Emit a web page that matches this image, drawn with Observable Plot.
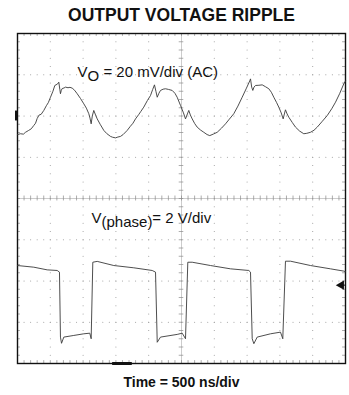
<!DOCTYPE html>
<html>
<head>
<meta charset="utf-8">
<script src="https://cdn.jsdelivr.net/npm/d3@7"></script>
<script src="https://cdn.jsdelivr.net/npm/@observablehq/plot@0.6"></script>
<style>
  body { margin: 0; background: #fff; font-family: "Liberation Sans", Arial, sans-serif; }
  #wrap { width: 349px; }
  #title { height: 28px; line-height: 30px; font-weight: bold; font-size: 17.5px; text-align: center; padding-left: 14px; color: #111; }
  #caption { height: 22px; line-height: 18px; font-weight: bold; font-size: 14px; text-align: center; padding-left: 14px; color: #111; }
  svg { display: block; }
</style>
</head>
<body>
<div id="wrap">
  <div id="title">OUTPUT VOLTAGE RIPPLE</div>
  <div id="chart"></div>
  <div id="caption">Time = 500 ns/div</div>
</div>
<script>
// ---- scope settings ----
const timeDomain = [0, 5000];          // ns, 500 ns/div, 10 divisions
const divDomain = [-4, 4];             // vertical divisions
const rippleOffsetDiv = 2;             // channel 1 reference (div)
const rippleMvPerDiv = 20;             // 20 mV/div (AC)
const phaseOffsetDiv = -3.3;           // channel 2 reference (div)
const phaseVPerDiv = 2;                // 2 V/div

// ---- output ripple, [time ns, mV] ----
const rippleTime = [0,46,90,122,170,210,248,275,300,330,360,401,440,470,503,540,569,610,630,645,655,668,681,710,732,770,800,834,870,910,960,1011,1050,1087,1105,1123,1140,1163,1190,1215,1260,1316,1360,1418,1450,1494,1530,1570,1610,1672,1720,1760,1799,1850,1880,1925,1980,2027,2060,2088,2110,2130,2155,2180,2220,2256,2300,2358,2400,2434,2485,2530,2561,2590,2611,2635,2663,2700,2739,2790,2840,2890,2931,2990,3044,3110,3171,3230,3297,3360,3425,3490,3540,3552,3570,3587,3605,3628,3680,3730,3780,3831,3870,3907,3950,3983,4020,4050,4068,4085,4110,4136,4190,4238,4300,4364,4410,4466,4520,4569,4640,4721,4790,4848,4910,4974,5000];
const rippleMv = [-9,-8.6,-8.8,-7.9,-7,-6.2,-4.6,-3.5,-1.2,0.5,0.8,2.7,5,6.5,9.1,12,14.8,15.5,16.4,13,10.8,12.5,13.3,13.6,14.0,13.7,13.9,13.5,12.5,10.8,8.5,5.9,3.8,1.1,-1,-3.8,0,2.7,0.5,-1.4,-4,-7.0,-8.5,-9.9,-10.3,-10.6,-10.2,-9.9,-9.0,-7.0,-5,-3.5,-1.4,0.8,2.2,4.3,7.5,9.9,12.8,15.1,12,9.1,11,12.4,13,13.2,12.9,12.4,11,9.1,5.1,1.5,-1.4,1,2.7,0.5,-1.4,-3.6,-5.4,-6.8,-7.9,-9,-9.5,-8.7,-7.9,-5.9,-3.8,-1.5,1.1,4.8,9.1,13.5,17,18.0,14,12.4,14,14.8,14.9,15.1,14.2,13.2,11.5,9.1,6.5,4.3,1.5,-1.4,1,3.0,1,-0.6,-3.2,-5.4,-7.3,-8.6,-8.4,-7.9,-6.9,-5.4,-2.8,0.2,3.5,6.7,10.8,15.6,17];

// ---- phase node, [time ns, V] ----
const phaseTime = [0,248,453,605,640,655,671,706,858,1011,1102,1123,1148,1215,1468,1773,2053,2104,2130,2180,2434,2511,2561,2596,2663,2942,3247,3526,3552,3578,3603,3654,3857,4009,4044,4085,4162,4466,4771,4974,5000];
const phaseV = [3.35,3.27,3.14,3.11,3.03,-0.12,-0.42,-0.12,-0.04,0.04,0.07,-0.20,3.51,3.55,3.35,3.24,3.11,3.03,-0.37,-0.12,0.01,0.07,-0.20,3.51,3.51,3.35,3.19,3.11,3.03,-0.20,-0.44,-0.12,0.04,0.12,-0.20,3.56,3.56,3.35,3.19,3.08,3.05];

// ---- annotations ----
const annotations = [
  {t: 915, div: 3.07, parts: [["V", 0], ["O", 1], [" = 20 mV/div (AC)", 0]]},
  {t: 1128, div: -0.47, parts: [["V", 0], ["(phase)", 1], ["= 2 V/div", 0]]}
];

const ripple = rippleTime.map((t, i) => ({t, y: rippleOffsetDiv + rippleMv[i] / rippleMvPerDiv}));
const phase = phaseTime.map((t, i) => ({t, y: phaseOffsetDiv + phaseV[i] / phaseVPerDiv}));

// graticule
const majorX = d3.range(500, 5000, 500).filter(v => v !== 2500);
const majorY = [-3, -2, -1, 1, 2, 3];
const minorX = d3.range(0, 5001, 100);
const minorY = d3.range(-20, 21).map(k => k / 5);
const gridDots = [
  ...majorX.flatMap(x => minorY.map(y => ({x, y}))),
  ...majorY.flatMap(y => minorX.map(x => ({x, y})))
];

const gray = "#8a8a8a";
const plot = Plot.plot({
  width: 349,
  height: 345,
  marginLeft: 17,
  marginRight: 4,
  marginTop: 5,
  marginBottom: 10,
  x: {domain: timeDomain, axis: null},
  y: {domain: divDomain, axis: null},
  marks: [
    Plot.dot(gridDots, {x: "x", y: "y", r: 0.55, fill: "#999", stroke: null}),
    Plot.ruleX([2500], {stroke: "#aaa", strokeWidth: 0.6}),
    Plot.ruleY([0], {stroke: "#aaa", strokeWidth: 0.6}),
    Plot.ruleY(minorY, {y: d => d, x1: 2465, x2: 2535, stroke: gray, strokeWidth: 0.7}),
    Plot.ruleX(minorX, {x: d => d, y1: -0.06, y2: 0.06, stroke: gray, strokeWidth: 0.7}),
    Plot.ruleX(minorX, {x: d => d, y1: 4, y2: 3.93, stroke: gray, strokeWidth: 0.7}),
    Plot.ruleX(minorX, {x: d => d, y1: -4, y2: -3.93, stroke: gray, strokeWidth: 0.7}),
    Plot.ruleY(minorY, {y: d => d, x1: 0, x2: 45, stroke: gray, strokeWidth: 0.7}),
    Plot.ruleY(minorY, {y: d => d, x1: 4955, x2: 5000, stroke: gray, strokeWidth: 0.7}),
    Plot.frame({stroke: "#111", strokeWidth: 1.4}),
    // markers
    Plot.ruleX([0], {y1: rippleOffsetDiv - 0.12, y2: rippleOffsetDiv + 0.12, stroke: "#111", strokeWidth: 3, dx: -1}),
    Plot.dot([{x: 4935, y: -2.1}], {x: "x", y: "y", symbol: "triangle", r: 3.5, rotate: -90, fill: "#111", stroke: null}),
    Plot.ruleY([-2.1], {x1: 4935, x2: 5000, stroke: "#111", strokeWidth: 1}),
    Plot.ruleY([-4], {x1: 1450, x2: 1750, stroke: "#111", strokeWidth: 3}),
    // traces
    Plot.line(ripple, {x: "t", y: "y", stroke: "#3a3a3a", strokeWidth: 0.9, curve: "linear"}),
    Plot.line(phase, {x: "t", y: "y", stroke: "#3a3a3a", strokeWidth: 0.9, curve: "linear"}),
    Plot.text(annotations, {x: "t", y: "div", text: d => d.parts.map(p => p[0]).join(""), textAnchor: "start", lineAnchor: "middle", fontSize: 15, fill: "#111", fontFamily: "Liberation Sans, Arial, sans-serif"})
  ]
});
d3.select(plot).selectAll('g[aria-label="text"] text').each(function(_, i) {
  const el = d3.select(this);
  el.text(null);
  let shifted = 0;
  annotations[i].parts.forEach(([txt, sub]) => {
    const want = sub ? 4.5 : 0;
    el.append("tspan").attr("dy", want - shifted).text(txt);
    shifted = want;
  });
});
document.getElementById("chart").appendChild(plot);
</script>
</body>
</html>
